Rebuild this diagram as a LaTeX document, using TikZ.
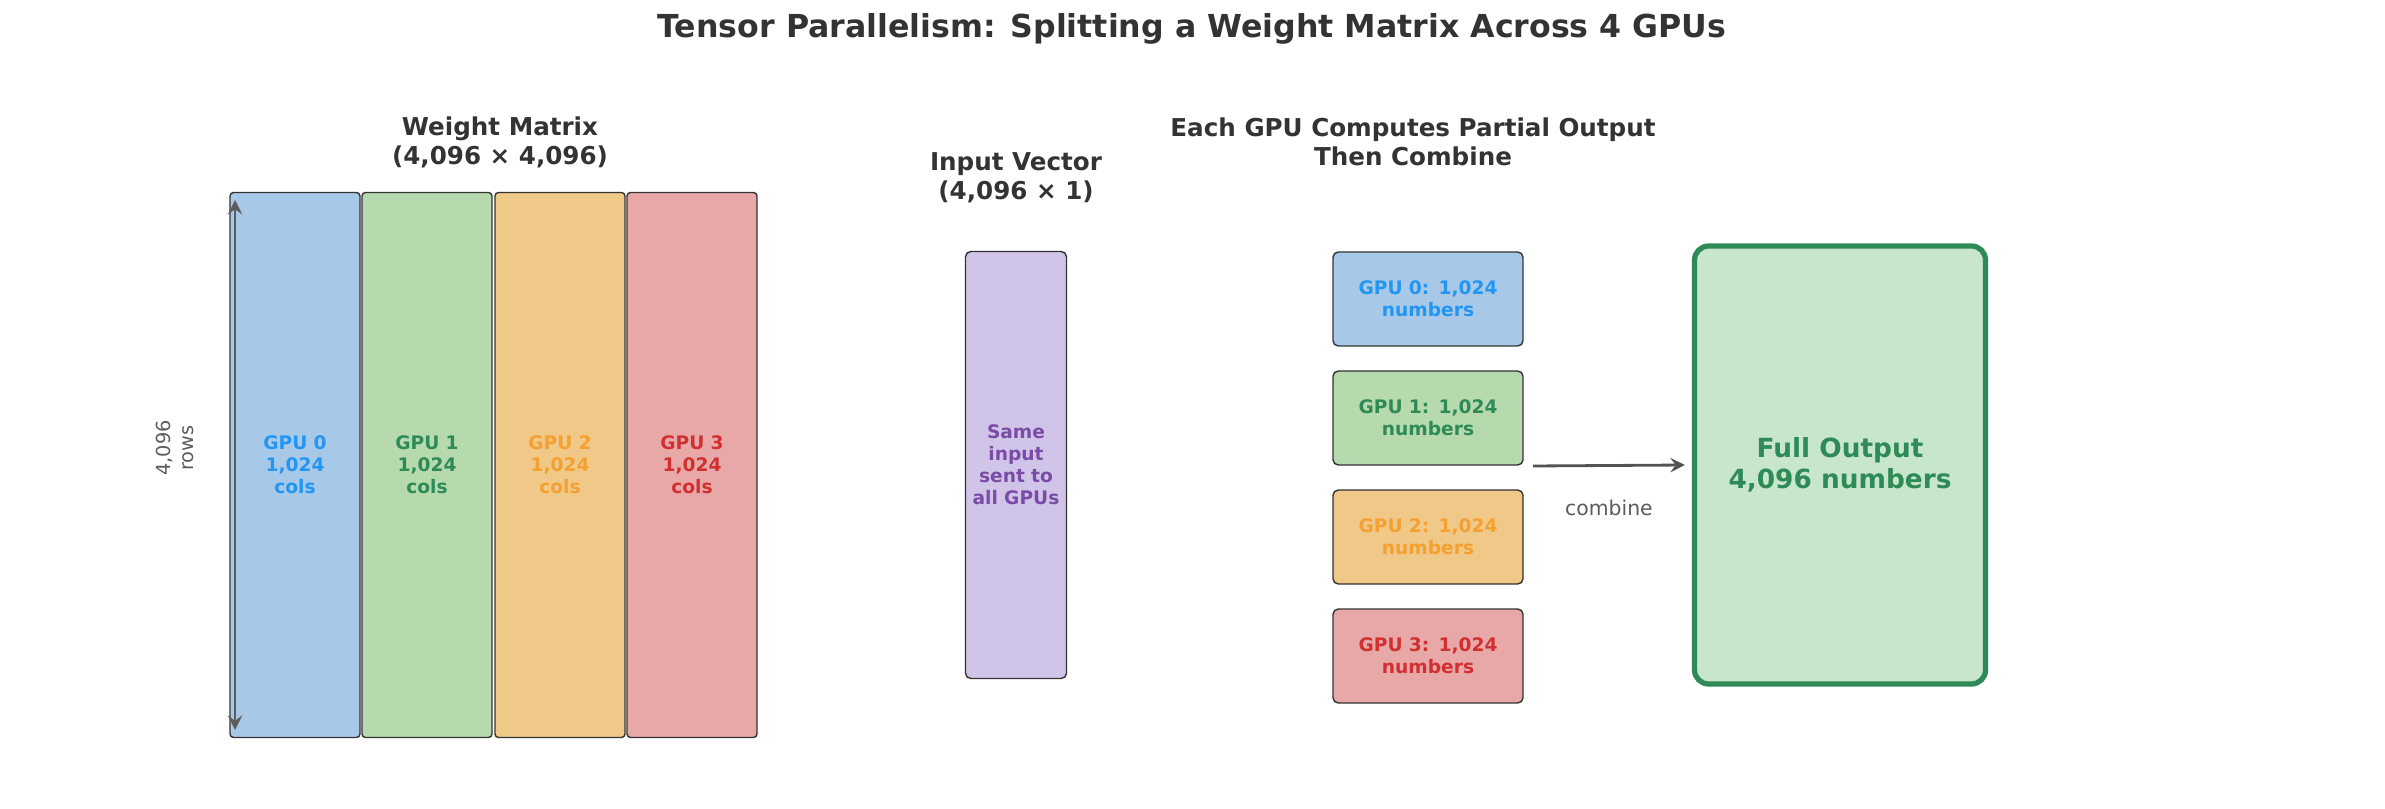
\documentclass[tikz,border=0pt]{standalone}
\usepackage{fontspec}
\setmainfont{DejaVu Sans}
\usetikzlibrary{positioning}
\definecolor{cblue}{HTML}{A8C8E8}\definecolor{tblue}{HTML}{2196F3}
\definecolor{cgreen}{HTML}{B6D9AE}\definecolor{tgreen}{HTML}{2E8B57}
\definecolor{corange}{HTML}{F0C888}\definecolor{torange}{HTML}{F5A030}
\definecolor{cred}{HTML}{E8A8A8}\definecolor{tred}{HTML}{D03030}
\definecolor{cpurple}{HTML}{D0C4E8}\definecolor{tpurple}{HTML}{7B4BA8}
\definecolor{cout}{HTML}{C8E6C9}\definecolor{dark}{HTML}{333333}
\tikzset{col/.style={rectangle,rounded corners=1pt,draw=dark,text width=1.3cm,minimum height=5.45cm,inner sep=0pt,font=\fontsize{5.3}{6.3}\selectfont\bfseries,align=center}}
\tikzset{part/.style={rectangle,rounded corners=1.5pt,draw=dark,text width=1.9cm,minimum height=0.94cm,inner sep=0pt,font=\fontsize{5.3}{6.3}\selectfont\bfseries,align=center}}
\tikzset{head/.style={font=\fontsize{7}{8.2}\selectfont\bfseries,text=dark,align=center}}
\begin{document}
\begin{tikzpicture}
\useasboundingbox (0,0) rectangle (23.85,8.08);

\node[font=\fontsize{9}{11}\selectfont\bfseries,text=dark] (title) at (11.92,7.79) {Tensor Parallelism: Splitting a Weight Matrix Across 4 GPUs};

% weight matrix
\node[col,fill=cblue,text=tblue] (C0) at (2.95,3.43) {GPU 0\\1,024\\cols};
\node[col,fill=cgreen,text=tgreen] (C1) at (4.27,3.43) {GPU 1\\1,024\\cols};
\node[col,fill=corange,text=torange] (C2) at (5.60,3.43) {GPU 2\\1,024\\cols};
\node[col,fill=cred,text=tred] (C3) at (6.92,3.43) {GPU 3\\1,024\\cols};
\node[head] (wm) at (5.00,6.66) {Weight Matrix\\(4,096 × 4,096)};
\coordinate (rt) at (2.35,6.08);
\coordinate (rb) at (2.35,0.78);
\draw[<->,>=stealth,thick,draw=dark!80] (rt) -- (rb);
\node[rotate=90,font=\fontsize{5.5}{6.5}\selectfont,text=dark!80,align=center] (rows) at (1.75,3.60) {4,096\\rows};

% input vector
\node[rectangle,rounded corners=1.5pt,draw=dark,fill=cpurple,text width=1.01cm,minimum height=4.27cm,inner sep=0pt,text=tpurple,font=\fontsize{5.3}{6.3}\selectfont\bfseries,align=center] (vec) at (10.16,3.43) {Same\\input\\sent to\\all GPUs};
\node[head] (vt) at (10.16,6.30) {Input Vector\\(4,096 × 1)};

% partial outputs
\node[head] (pt) at (14.13,6.66) {Each GPU Computes Partial Output\\Then Combine};
\node[part,fill=cblue,text=tblue] (P0) at (14.28,5.09) {GPU 0: 1,024 numbers};
\node[part,fill=cgreen,text=tgreen] (P1) at (14.28,3.90) {GPU 1: 1,024 numbers};
\node[part,fill=corange,text=torange] (P2) at (14.28,2.71) {GPU 2: 1,024 numbers};
\node[part,fill=cred,text=tred] (P3) at (14.28,1.52) {GPU 3: 1,024 numbers};

\node[rectangle,rounded corners=4pt,draw=tgreen,line width=1.5pt,fill=cout,minimum width=2.91cm,minimum height=4.38cm,text=tgreen,font=\fontsize{7.5}{8.8}\selectfont\bfseries,align=center] (out) at (18.40,3.43) {Full Output\\4,096 numbers};

\coordinate (cs) at (15.33,3.42);
\draw[->,>=stealth,thick,draw=dark!85] (cs) -- ([xshift=-2pt]out.west) node[pos=0.5,below=6pt,font=\fontsize{5.8}{7}\selectfont,text=dark!80] {combine};
\end{tikzpicture}
\end{document}
